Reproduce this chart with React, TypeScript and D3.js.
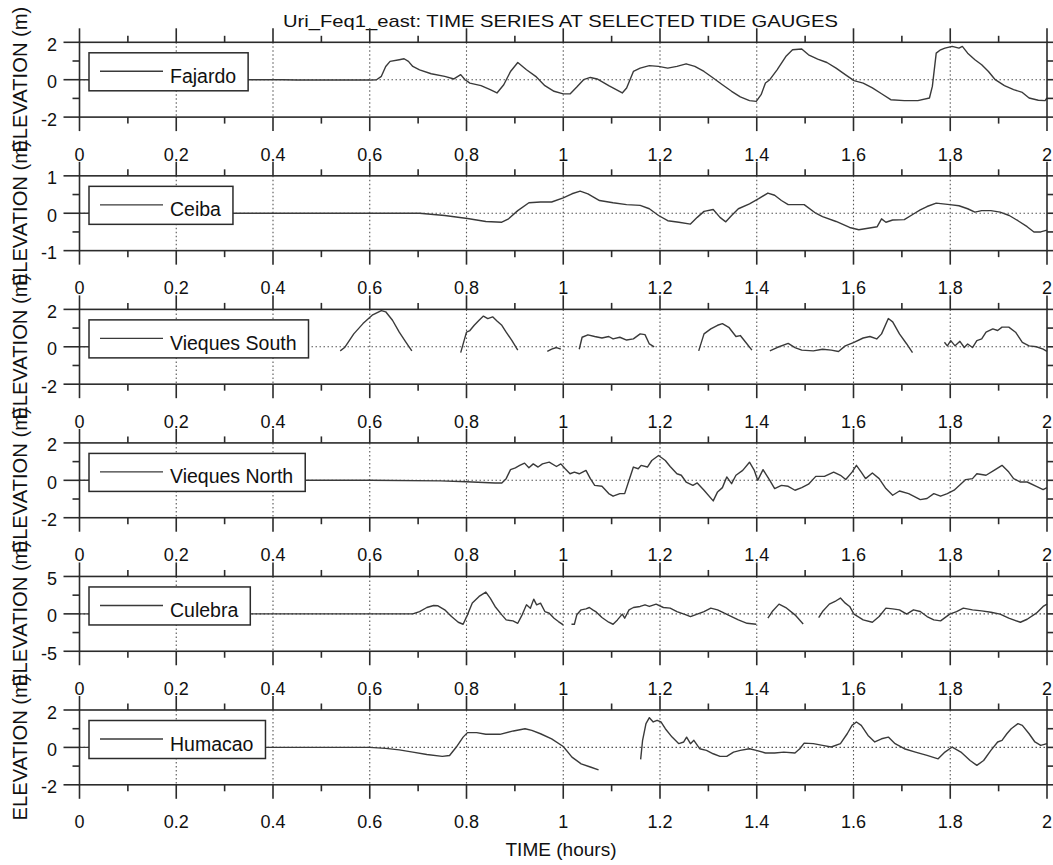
import { useEffect, useRef } from 'react';
import * as d3 from 'd3';

type Pt = [number, number | null];

const chartTitle = 'Uri_Feq1_east: TIME SERIES AT SELECTED TIDE GAUGES';
const xTitle = 'TIME (hours)';
const yTitle = 'ELEVATION (m)';
const gaugeNames = ['Fajardo', 'Ceiba', 'Vieques South', 'Vieques North', 'Culebra', 'Humacao'];
const yLimits = [2, 1, 2, 2, 5, 2];
const xTickValues = [0, 0.2, 0.4, 0.6, 0.8, 1, 1.2, 1.4, 1.6, 1.8, 2];
const xTickLabels = ['0', '0.2', '0.4', '0.6', '0.8', '1', '1.2', '1.4', '1.6', '1.8', '2'];

const fajardo: Pt[] = [
  [0, 0], [0.42, 0], [0.45, -0.02], [0.6, -0.02], [0.614, 0], [0.624, 0.18], [0.633, 0.71], [0.642, 0.98],
  [0.661, 1.07], [0.671, 1.12], [0.68, 0.98], [0.689, 0.71], [0.703, 0.53], [0.727, 0.32], [0.755, 0.18],
  [0.774, 0.04], [0.788, 0.27], [0.797, 0], [0.807, -0.18], [0.83, -0.32], [0.849, -0.53], [0.863, -0.71],
  [0.877, -0.27], [0.891, 0.44], [0.906, 0.92], [0.924, 0.53], [0.943, 0.18], [0.962, -0.32], [0.981, -0.62],
  [1.0, -0.76], [1.014, -0.76], [1.028, -0.39], [1.042, 0], [1.056, 0.12], [1.07, 0.04], [1.094, -0.32],
  [1.122, -0.71], [1.131, -0.44], [1.145, 0.44], [1.159, 0.62], [1.178, 0.75], [1.197, 0.71], [1.216, 0.62],
  [1.235, 0.71], [1.254, 0.85], [1.272, 0.71], [1.291, 0.44], [1.31, 0.09], [1.329, -0.27], [1.348, -0.62],
  [1.366, -0.92], [1.385, -1.12], [1.399, -1.16], [1.409, -0.8], [1.418, -0.18], [1.427, 0], [1.442, 0.53],
  [1.46, 1.24], [1.474, 1.6], [1.493, 1.64], [1.507, 1.33], [1.526, 1.1], [1.545, 0.92], [1.564, 0.62],
  [1.583, 0.27], [1.601, -0.05], [1.62, -0.18], [1.639, -0.44], [1.658, -0.75], [1.677, -1.07], [1.705, -1.12],
  [1.733, -1.12], [1.757, -0.98], [1.763, -0.36], [1.771, 1.42], [1.78, 1.6], [1.789, 1.69], [1.804, 1.78],
  [1.818, 1.69], [1.825, 1.78], [1.836, 1.42], [1.851, 1.07], [1.865, 0.8], [1.879, 0.44], [1.893, 0],
  [1.912, -0.32], [1.931, -0.53], [1.949, -0.68], [1.963, -0.98], [1.982, -1.1], [1.996, -1.12], [2.0, -0.98],
];

const ceiba: Pt[] = [
  [0, 0], [0.703, 0], [0.755, -0.06], [0.802, -0.14], [0.84, -0.22], [0.873, -0.24], [0.887, -0.15],
  [0.906, 0.07], [0.929, 0.28], [0.953, 0.3], [0.976, 0.3], [1.0, 0.41], [1.018, 0.52], [1.035, 0.59],
  [1.051, 0.52], [1.075, 0.34], [1.103, 0.28], [1.131, 0.23], [1.159, 0.21], [1.178, 0.12], [1.197, -0.06],
  [1.216, -0.2], [1.239, -0.24], [1.263, -0.29], [1.277, -0.11], [1.291, 0.05], [1.31, 0.1], [1.324, -0.11],
  [1.336, -0.23], [1.348, -0.06], [1.362, 0.12], [1.385, 0.25], [1.404, 0.39], [1.423, 0.54], [1.437, 0.48],
  [1.451, 0.34], [1.465, 0.23], [1.498, 0.23], [1.522, 0], [1.536, -0.09], [1.564, -0.22], [1.592, -0.38],
  [1.611, -0.44], [1.63, -0.4], [1.649, -0.36], [1.658, -0.15], [1.667, -0.24], [1.681, -0.18], [1.705, -0.17],
  [1.724, -0.02], [1.738, 0.09], [1.752, 0.18], [1.771, 0.27], [1.799, 0.23], [1.818, 0.2], [1.836, 0.12],
  [1.851, 0.03], [1.865, 0.07], [1.884, 0.07], [1.903, 0.03], [1.922, -0.06], [1.94, -0.2], [1.959, -0.36],
  [1.973, -0.5], [1.987, -0.5], [2.0, -0.45],
];

const viequesSouth: Pt[] = [
  [0, 0], [0.3, 0], [0.31, null],
  [0.539, -0.22], [0.548, -0.04], [0.567, 0.69], [0.586, 1.24], [0.605, 1.69], [0.624, 1.93], [0.633, 1.87],
  [0.647, 1.42], [0.661, 0.78], [0.675, 0.24], [0.687, -0.22], [0.7, null],
  [0.788, -0.31], [0.795, 0.33], [0.8, 0.78], [0.807, 0.87], [0.816, 1.15], [0.826, 1.42], [0.835, 1.64],
  [0.844, 1.51], [0.854, 1.6], [0.863, 1.38], [0.873, 1.15], [0.882, 0.78], [0.894, 0.33], [0.906, -0.18], [0.92, null],
  [0.967, -0.25], [0.976, -0.13], [0.986, -0.04], [0.995, -0.13], [1.01, null],
  [1.033, -0.13], [1.039, 0.51], [1.051, 0.64], [1.065, 0.55], [1.08, 0.47], [1.094, 0.55], [1.103, 0.42],
  [1.117, 0.51], [1.131, 0.36], [1.145, 0.42], [1.159, 0.69], [1.169, 0.65], [1.178, 0.15], [1.188, 0], [1.2, null],
  [1.28, -0.22], [1.291, 0.69], [1.305, 0.96], [1.319, 1.15], [1.329, 1.24], [1.343, 1.02], [1.357, 0.55],
  [1.366, 0.6], [1.38, 0.15], [1.39, -0.18], [1.41, null],
  [1.427, -0.22], [1.442, -0.04], [1.465, 0.18], [1.479, -0.04], [1.493, -0.18], [1.517, -0.22], [1.536, -0.13],
  [1.554, -0.18], [1.569, -0.25], [1.583, 0.05], [1.601, 0.24], [1.62, 0.47], [1.634, 0.55], [1.648, 0.42],
  [1.658, 0.69], [1.672, 1.51], [1.681, 1.33], [1.695, 0.69], [1.71, 0.15], [1.722, -0.31], [1.74, null],
  [1.788, 0.24], [1.794, 0.05], [1.801, 0.33], [1.81, 0.05], [1.82, 0.29], [1.829, -0.04], [1.836, 0.15],
  [1.846, -0.04], [1.855, 0.33], [1.865, 0.42], [1.874, 0.78], [1.888, 0.96], [1.898, 0.87], [1.907, 1.05],
  [1.921, 1.05], [1.935, 0.78], [1.949, 0.24], [1.963, 0.05], [1.978, 0], [1.992, -0.13], [2.0, -0.25],
];

const viequesNorth: Pt[] = [
  [0, 0], [0.6, 0], [0.746, -0.03], [0.8, -0.08], [0.859, -0.14], [0.873, -0.14], [0.882, 0.09], [0.891, 0.57],
  [0.901, 0.67], [0.91, 0.8], [0.92, 0.92], [0.929, 0.67], [0.938, 0.88], [0.948, 0.71], [0.957, 0.88],
  [0.971, 0.97], [0.986, 0.74], [0.995, 0.88], [1.004, 0.62], [1.014, 0.35], [1.023, 0.44], [1.033, 0.35],
  [1.047, 0.53], [1.056, 0.09], [1.065, -0.27], [1.08, -0.32], [1.094, -0.71], [1.103, -0.85], [1.117, -0.71],
  [1.127, -0.71], [1.136, 0], [1.145, 0.71], [1.155, 0.62], [1.161, 0.8], [1.174, 0.71], [1.183, 1.06],
  [1.197, 1.33], [1.211, 1.06], [1.221, 0.74], [1.235, 0.35], [1.244, 0.27], [1.254, -0.09], [1.268, -0.27],
  [1.277, -0.14], [1.291, -0.53], [1.31, -1.1], [1.319, -0.62], [1.329, -0.39], [1.338, 0.18], [1.348, -0.18],
  [1.357, 0.27], [1.371, 0.53], [1.385, 0.97], [1.395, 0.53], [1.402, 0], [1.413, 0.57], [1.427, 0],
  [1.437, -0.44], [1.451, -0.27], [1.465, -0.32], [1.479, -0.53], [1.493, -0.39], [1.507, -0.21], [1.522, 0.21],
  [1.54, 0.21], [1.559, 0.44], [1.573, 0.27], [1.584, 0.04], [1.597, 0.44], [1.606, 0.8], [1.616, 0.44],
  [1.625, 0.09], [1.639, 0.39], [1.653, 0.09], [1.667, -0.44], [1.681, -0.8], [1.695, -0.57], [1.714, -0.71],
  [1.738, -1.03], [1.752, -0.97], [1.766, -0.71], [1.78, -0.85], [1.794, -0.71], [1.808, -0.53], [1.832, 0.04],
  [1.846, 0.09], [1.855, 0.35], [1.874, 0.27], [1.893, 0.57], [1.907, 0.8], [1.921, 0.44], [1.931, 0.09],
  [1.945, -0.09], [1.959, -0.09], [1.978, -0.32], [1.992, -0.5], [2.0, -0.39],
];

const culebra: Pt[] = [
  [0, 0], [0.689, 0], [0.703, 0.31], [0.718, 0.85], [0.732, 1.12], [0.741, 1.08], [0.755, 0.54], [0.769, -0.36],
  [0.783, -1.12], [0.793, -1.39], [0.802, -0.13], [0.812, 1.44], [0.826, 2.33], [0.84, 2.91], [0.849, 2.11],
  [0.859, 0.99], [0.873, -0.13], [0.882, -0.81], [0.896, -0.94], [0.906, -1.26], [0.915, -0.13], [0.924, 1.21],
  [0.932, 0.76], [0.939, 1.97], [0.945, 1.21], [0.953, 1.43], [0.962, 0.31], [0.971, 0.09], [0.981, -0.58],
  [0.99, -1.03], [1.0, -1.48], [1.008, null],
  [1.017, -1.39], [1.023, -1.39], [1.028, -0.13], [1.037, 0.54], [1.047, 0.67], [1.054, 0.85], [1.061, 0.54],
  [1.067, 0.31], [1.08, -0.49], [1.094, -1.12], [1.103, -1.39], [1.112, -0.81], [1.122, -0.04], [1.127, -0.58],
  [1.136, 0.54], [1.145, 0.85], [1.159, 0.99], [1.169, 1.21], [1.178, 0.99], [1.192, 1.3], [1.207, 0.85],
  [1.221, 0.76], [1.235, 0.31], [1.254, -0.13], [1.263, -0.36], [1.277, -0.04], [1.291, 0.31], [1.305, 0.76],
  [1.319, 0.54], [1.333, 0.09], [1.348, -0.36], [1.362, -0.81], [1.38, -1.26], [1.399, -1.39], [1.41, null],
  [1.423, -0.58], [1.432, 0.31], [1.446, 1.3], [1.46, 0.85], [1.479, -0.13], [1.496, -1.35], [1.51, null],
  [1.528, -0.49], [1.536, 0.31], [1.55, 1.3], [1.564, 1.75], [1.573, 2.11], [1.583, 1.43], [1.592, 0.99],
  [1.601, -0.04], [1.62, -0.81], [1.639, -1.12], [1.653, -0.36], [1.667, 0.76], [1.681, 0.67], [1.695, 0.54],
  [1.71, -0.04], [1.724, 0.54], [1.738, 0.31], [1.752, -0.36], [1.766, -0.81], [1.78, -0.94], [1.799, -0.04],
  [1.813, 0.31], [1.827, 0.76], [1.846, 0.54], [1.865, 0.4], [1.884, 0.22], [1.903, -0.04], [1.921, -0.58],
  [1.945, -1.12], [1.959, -0.72], [1.978, 0.09], [1.992, 0.99], [2.0, 1.3],
];

const humacao: Pt[] = [
  [0, 0], [0.6, 0], [0.633, -0.05], [0.661, -0.13], [0.689, -0.25], [0.718, -0.38], [0.75, -0.48], [0.765, -0.43],
  [0.779, 0.02], [0.793, 0.55], [0.802, 0.79], [0.821, 0.79], [0.84, 0.7], [0.869, 0.7], [0.897, 0.88],
  [0.921, 1.0], [0.935, 0.91], [0.953, 0.73], [0.976, 0.46], [1.0, 0.05], [1.018, -0.52], [1.037, -0.88],
  [1.056, -1.05], [1.073, -1.2], [1.1, null],
  [1.16, -0.64], [1.164, 0.38], [1.171, 1.27], [1.178, 1.59], [1.186, 1.36], [1.194, 1.45], [1.202, 1.36],
  [1.211, 1.0], [1.225, 0.55], [1.239, 0.2], [1.249, 0.29], [1.255, 0.55], [1.263, 0.2], [1.27, 0.38],
  [1.282, -0.07], [1.296, -0.16], [1.31, -0.34], [1.324, -0.48], [1.338, -0.48], [1.352, -0.25], [1.366, -0.16],
  [1.385, -0.07], [1.399, -0.16], [1.418, -0.3], [1.437, -0.3], [1.456, -0.25], [1.479, -0.3], [1.489, -0.07],
  [1.498, 0.23], [1.517, 0.2], [1.536, 0.11], [1.554, 0.02], [1.573, 0.2], [1.587, 0.73], [1.597, 1.18],
  [1.606, 1.36], [1.616, 1.18], [1.63, 0.64], [1.644, 0.29], [1.658, 0.46], [1.672, 0.55], [1.686, 0.2],
  [1.705, -0.07], [1.728, -0.25], [1.752, -0.43], [1.775, -0.61], [1.789, -0.25], [1.804, 0.02], [1.822, -0.25],
  [1.841, -0.7], [1.855, -0.96], [1.869, -0.7], [1.884, -0.16], [1.898, 0.29], [1.907, 0.38], [1.917, 0.73],
  [1.926, 1.0], [1.94, 1.27], [1.949, 1.18], [1.963, 0.73], [1.975, 0.29], [1.987, 0.11], [2.0, 0.2],
];

const gaugeSeries = [fajardo, ceiba, viequesSouth, viequesNorth, culebra, humacao];

export default function App() {
  const svgRef = useRef<SVGSVGElement>(null);

  useEffect(() => {
    const width = 1053;
    const height = 865;
    const panelTop = 42.3;
    const panelStep = 133.54;
    const panelH = 74.8;
    const ink = '#2b2b2b';
    const font = '"Liberation Sans", Arial, Helvetica, sans-serif';

    const svg = d3.select(svgRef.current).attr('width', width).attr('height', height);
    svg.selectAll('*').remove();

    const x = d3.scaleLinear().domain([0, 2]).range([79.5, 1047]);
    const minorX = d3.range(1, 20, 2).map(i => i / 10);

    // title
    svg.append('text')
      .attr('x', 560.5).attr('y', 27)
      .attr('text-anchor', 'middle')
      .attr('font-family', font).attr('font-size', 17)
      .attr('textLength', 555).attr('lengthAdjust', 'spacingAndGlyphs')
      .attr('fill', '#111')
      .text(chartTitle);

    gaugeNames.forEach((name, i) => {
      const lim = yLimits[i];
      const top = panelTop + i * panelStep;
      const g = svg.append('g').attr('transform', `translate(0,${top})`);
      const y = d3.scaleLinear().domain([-lim, lim]).range([panelH, 0]);
      const majorY = [-lim, 0, lim];
      const minorY = [-lim / 2, lim / 2];

      // dotted grid
      g.selectAll('.vgrid')
        .data(xTickValues.slice(1, -1))
        .join('line')
        .attr('x1', d => x(d)).attr('x2', d => x(d))
        .attr('y1', 0).attr('y2', panelH)
        .attr('stroke', '#555').attr('stroke-width', 1.1)
        .attr('stroke-dasharray', '1.5,2.5');
      g.append('line')
        .attr('x1', x(0)).attr('x2', x(2))
        .attr('y1', y(0)).attr('y2', y(0))
        .attr('stroke', '#555').attr('stroke-width', 1.1)
        .attr('stroke-dasharray', '1.5,2.5');

      // series
      const line = d3.line<Pt>()
        .defined(d => d[1] !== null)
        .x(d => x(d[0]))
        .y(d => y(d[1] as number));
      g.append('path')
        .datum(gaugeSeries[i])
        .attr('d', line)
        .attr('fill', 'none')
        .attr('stroke', '#3a3a3a')
        .attr('stroke-width', 1.4)
        .attr('stroke-linejoin', 'round');

      // frame
      g.append('rect')
        .attr('x', x(0)).attr('y', 0)
        .attr('width', x(2) - x(0)).attr('height', panelH)
        .attr('fill', 'none').attr('stroke', ink).attr('stroke-width', 1.6);

      // x ticks top and bottom
      const tickX = (vals: number[], len: number) => {
        g.selectAll(null).data(vals).join('line')
          .attr('x1', d => x(d)).attr('x2', d => x(d))
          .attr('y1', -len).attr('y2', 0)
          .attr('stroke', ink).attr('stroke-width', 1.6);
        g.selectAll(null).data(vals).join('line')
          .attr('x1', d => x(d)).attr('x2', d => x(d))
          .attr('y1', panelH).attr('y2', panelH + len)
          .attr('stroke', ink).attr('stroke-width', 1.6);
      };
      tickX(xTickValues, 14);
      tickX(minorX, 6.5);

      // y ticks left and right
      const tickY = (vals: number[], len: number) => {
        g.selectAll(null).data(vals).join('line')
          .attr('x1', x(0) - len).attr('x2', x(0))
          .attr('y1', d => y(d)).attr('y2', d => y(d))
          .attr('stroke', ink).attr('stroke-width', 1.6);
        g.selectAll(null).data(vals).join('line')
          .attr('x1', x(2)).attr('x2', x(2) + len)
          .attr('y1', d => y(d)).attr('y2', d => y(d))
          .attr('stroke', ink).attr('stroke-width', 1.6);
      };
      tickY(majorY, 16);
      tickY(minorY, 7);

      // x tick labels
      g.selectAll(null).data(xTickValues).join('text')
        .attr('x', d => x(d)).attr('y', panelH + 43.5)
        .attr('text-anchor', 'middle')
        .attr('font-family', font).attr('font-size', 18).attr('fill', '#111')
        .text((d, k) => xTickLabels[k]);

      // y tick labels
      g.selectAll(null).data(majorY).join('text')
        .attr('x', 57).attr('y', d => y(d) + 8.5)
        .attr('text-anchor', 'end')
        .attr('font-family', font).attr('font-size', 18).attr('fill', '#111')
        .text(d => String(d));

      // y title
      g.append('text')
        .attr('transform', `translate(27,${y(0)}) rotate(-90)`)
        .attr('text-anchor', 'middle')
        .attr('font-family', font).attr('font-size', 19.5).attr('fill', '#111')
        .attr('textLength', 146).attr('lengthAdjust', 'spacingAndGlyphs')
        .text(yTitle);

      // legend
      const legend = g.append('g');
      const box = legend.append('rect')
        .attr('x', 89).attr('y', 10.5).attr('height', 38)
        .attr('fill', '#fff').attr('stroke', ink).attr('stroke-width', 1.5);
      legend.append('line')
        .attr('x1', 100).attr('x2', 163).attr('y1', 29).attr('y2', 29)
        .attr('stroke', '#3a3a3a').attr('stroke-width', 1.4);
      const label = legend.append('text')
        .attr('x', 170).attr('y', 40.5)
        .attr('font-family', font).attr('font-size', 19.5).attr('fill', '#111')
        .text(name);
      const tw = (label.node() as SVGTextElement).getComputedTextLength();
      box.attr('width', 170 + tw + 12 - 89);
    });

    // x title
    svg.append('text')
      .attr('x', 561).attr('y', 856)
      .attr('text-anchor', 'middle')
      .attr('font-family', font).attr('font-size', 18)
      .attr('textLength', 111).attr('lengthAdjust', 'spacingAndGlyphs')
      .attr('fill', '#111')
      .text(xTitle);
  }, []);

  return (
    <svg ref={svgRef} style={{ position: 'absolute', left: 0, top: 0, background: '#fff' }}></svg>
  );
}
